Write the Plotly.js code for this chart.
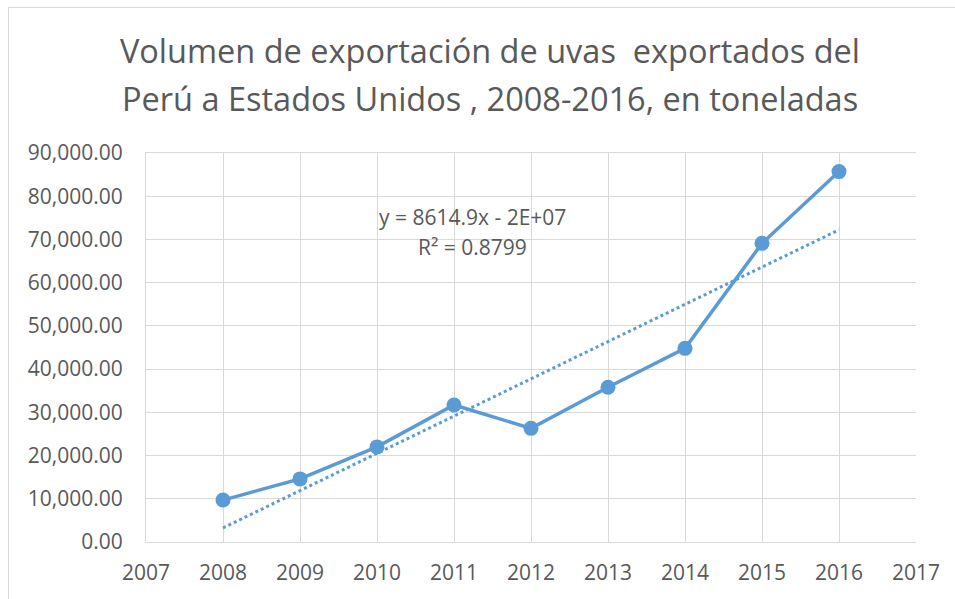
<!DOCTYPE html>
<html>
<head>
<meta charset="utf-8">
<script src="https://cdn.plot.ly/plotly-3.0.1.min.js"></script>
<style>
  html, body { margin: 0; padding: 0; background: #ffffff; }
  #frame { position: absolute; left: 8px; top: 7px; width: 960px; height: 600px; border: 1px solid #d9d9d9; box-sizing: border-box; }
  #chart { position: absolute; left: 0; top: 0; width: 955px; height: 599px; }
</style>
</head>
<body>
<div id="frame"></div>
<div id="chart"></div>
<script>
// Data
const years = [2008, 2009, 2010, 2011, 2012, 2013, 2014, 2015, 2016];
const volumes = [9700, 14600, 22000, 31700, 26300, 35800, 44800, 69100, 85700];
const titleLine1 = 'Volumen de exportación de uvas  exportados del';
const titleLine2 = 'Perú a Estados Unidos , 2008-2016, en toneladas';
const equationText = 'y = 8614.9x - 2E+07';
const r2Text = 'R² = 0.8799';
const xTicks = [2007, 2008, 2009, 2010, 2011, 2012, 2013, 2014, 2015, 2016, 2017];
const yTicks = [0, 10000, 20000, 30000, 40000, 50000, 60000, 70000, 80000, 90000];

// Linear trendline (least squares, as Excel computes it)
const n = years.length;
const mx = years.reduce((a, b) => a + b, 0) / n;
const my = volumes.reduce((a, b) => a + b, 0) / n;
let sxy = 0, sxx = 0;
for (let i = 0; i < n; i++) { sxy += (years[i] - mx) * (volumes[i] - my); sxx += (years[i] - mx) ** 2; }
const slope = sxy / sxx;
const intercept = my - slope * mx;
const trendX = [years[0], years[n - 1]];
const trendY = trendX.map(x => intercept + slope * x);

const blue = '#5b9bd5';
const textColor = '#595959';
const font = 'Open Sans, sans-serif';

const traces = [
  {
    x: trendX, y: trendY, type: 'scatter', mode: 'lines',
    line: { color: blue, width: 3, dash: 'dot' },
    hoverinfo: 'skip', showlegend: false
  },
  {
    x: years, y: volumes, type: 'scatter', mode: 'lines+markers',
    line: { color: blue, width: 3.5 },
    marker: { color: blue, size: 15 },
    showlegend: false
  }
];

const px = v => (v - 146) / (916 - 146);
const py = v => (542 - v) / (542 - 153);

const layout = {
  width: 955, height: 599,
  paper_bgcolor: 'rgba(0,0,0,0)', plot_bgcolor: '#ffffff',
  margin: { l: 146, r: 39, t: 153, b: 57 },
  font: { family: font, color: textColor, size: 21 },
  title: {
    text: titleLine1,
    font: { family: font, size: 32.5, color: textColor },
    xref: 'container', yref: 'container',
    x: 490 / 955, y: 1 - 52 / 599, xanchor: 'center', yanchor: 'middle'
  },
  xaxis: {
    range: [2007, 2017], tickmode: 'array', tickvals: xTicks,
    ticktext: xTicks.map(String),
    showgrid: true, gridcolor: '#d9d9d9', gridwidth: 1,
    showline: true, linecolor: '#d9d9d9', linewidth: 1, mirror: true,
    zeroline: false, ticks: '', ticklabelstandoff: 12,
    tickfont: { family: font, size: 21, color: textColor }
  },
  yaxis: {
    range: [0, 90000], tickmode: 'array', tickvals: yTicks,
    tickformat: ',.2f',
    showgrid: true, gridcolor: '#d9d9d9', gridwidth: 1,
    showline: true, linecolor: '#d9d9d9', linewidth: 1,
    zeroline: false, ticks: '', ticklabelstandoff: 18,
    tickfont: { family: font, size: 21, color: textColor }
  },
  annotations: [
    {
      text: titleLine2, xref: 'paper', yref: 'paper',
      x: px(490), y: py(98),
      xanchor: 'center', yanchor: 'middle', showarrow: false,
      font: { family: font, size: 32.5, color: textColor }
    },
    {
      text: equationText, xref: 'paper', yref: 'paper',
      x: px(472), y: py(217),
      xanchor: 'center', yanchor: 'middle', showarrow: false,
      font: { family: font, size: 21, color: textColor }
    },
    {
      text: r2Text, xref: 'paper', yref: 'paper',
      x: px(472), y: py(247),
      xanchor: 'center', yanchor: 'middle', showarrow: false,
      font: { family: font, size: 21, color: textColor }
    }
  ]
};

Plotly.newPlot('chart', traces, layout, { displayModeBar: false, staticPlot: true });
</script>
</body>
</html>
